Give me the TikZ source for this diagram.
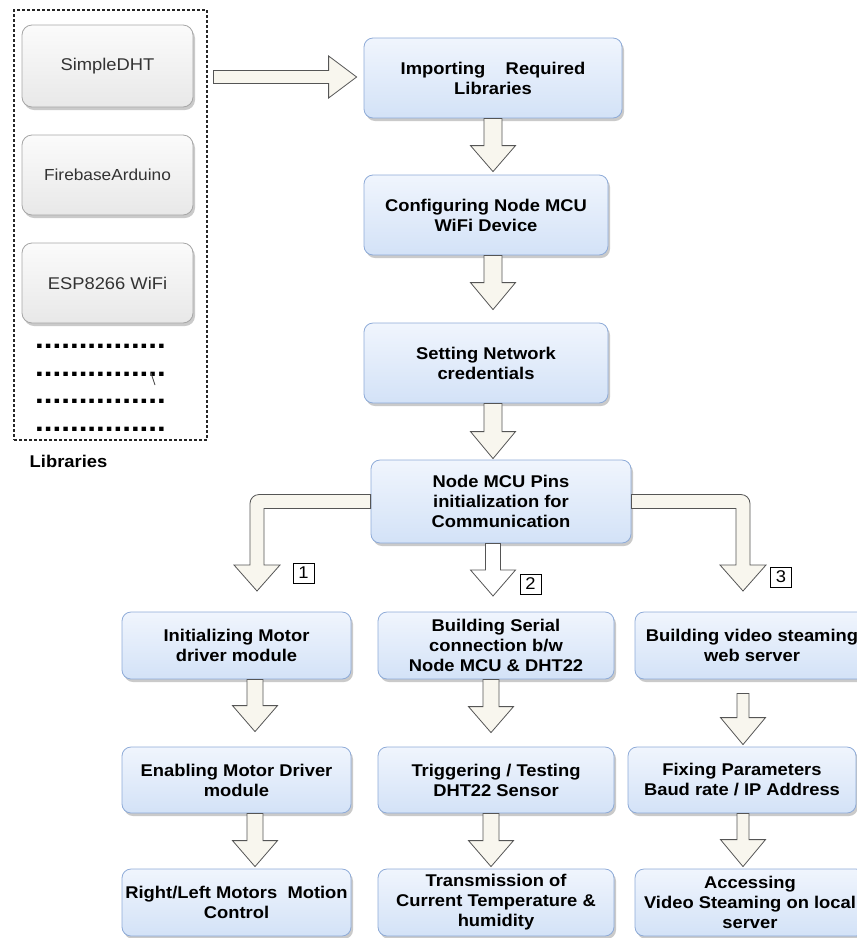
\documentclass[tikz,border=0pt]{standalone}
\usepackage{fontspec}
\setmainfont{Liberation Sans}[FakeStretch=1.08]
\usetikzlibrary{calc,shadows}
\definecolor{BoxTop}{HTML}{F0F5FD}
\definecolor{BoxBot}{HTML}{D3E2F7}
\definecolor{BoxLine}{HTML}{8EABD8}
\definecolor{LibTop}{HTML}{FBFBFB}
\definecolor{LibBot}{HTML}{E8E8E8}
\definecolor{LibLine}{HTML}{A6A6A6}
\definecolor{LibText}{HTML}{333333}
\definecolor{ArrowClr}{HTML}{F8F6EE}
\definecolor{ArrowLine}{HTML}{555555}
\newcommand{\shafthalf}{8pt}
\newcommand{\headlen}{26pt}

\begin{document}
\begin{tikzpicture}[x=1pt,y=-1pt,
  stepbox/.style={draw=BoxLine,line width=.8pt,rounded corners=9pt,top color=BoxTop,bottom color=BoxBot,
    align=center,inner sep=0pt,font=\fontsize{17}{20}\selectfont\bfseries,
    drop shadow={shadow xshift=2pt,shadow yshift=-3pt,fill=black!35,opacity=.6}},
  libbox/.style={draw=LibLine,line width=.8pt,rounded corners=10pt,top color=LibTop,bottom color=LibBot,
    text=LibText,inner sep=0pt,minimum width=171pt,font=\fontsize{17}{20}\selectfont,
    drop shadow={shadow xshift=2pt,shadow yshift=-3pt,fill=black!35,opacity=.6}},
  numbox/.style={draw,line width=.8pt,fill=white,inner sep=0pt,minimum width=21pt,minimum height=20pt,
    font=\fontsize{17}{17}\selectfont},
  dotrow/.style={inner sep=0pt,anchor=base,font=\fontsize{29}{29}\selectfont\bfseries},
  shaft/.code={\def\shafthalf{#1}},
  head/.code={\def\headlen{#1}},
  downarrow/.style={draw=ArrowLine,fill=ArrowClr,line width=.8pt,line join=miter,
    to path={let \p1=(\tikztostart), \p2=(\tikztotarget) in
      (\x1-\shafthalf,\y1) -- (\x1-\shafthalf,\y2+\headlen) -- (\x1-22.5pt,\y2+\headlen) -- (\x1,\y2)
      -- (\x1+22.5pt,\y2+\headlen) -- (\x1+\shafthalf,\y2+\headlen) -- (\x1+\shafthalf,\y1) -- cycle}},
  rightarrow/.style={draw=ArrowLine,fill=ArrowClr,line width=.8pt,
    to path={let \p1=(\tikztostart), \p2=(\tikztotarget) in
      (\x1,\y1+6.5pt) -- (\x2-28pt,\y1+6.5pt) -- (\x2-28pt,\y1+21pt) -- (\x2,\y1)
      -- (\x2-28pt,\y1-21pt) -- (\x2-28pt,\y1-6.5pt) -- (\x1,\y1-6.5pt) -- cycle}},
  bentarrow/.style={draw=ArrowLine,fill=ArrowClr,line width=.8pt}]

\useasboundingbox (0,0) rectangle (857,938);
\clip (0,0) rectangle (857,938);

\node[draw=black!85,dash pattern=on 3pt off 2pt,line width=1.1pt,minimum width=193pt,minimum height=430pt] (libs) at (110.5,225) {};
\node[libbox,minimum height=82pt] (simple) at (107.5,66) {SimpleDHT};
\node[libbox,minimum height=80pt,font=\fontsize{16}{20}\selectfont] (firebase) at (107.5,175) {FirebaseArduino};
\node[libbox,minimum height=80pt] (esp) at (107.5,283) {ESP8266 WiFi};
\foreach \y/\n in {348/1,376/2,403/3,431/4}
  \node[dotrow] (dots\n) at (100.5,\y) {...............};
\draw[line width=.9pt,black!70] (151,373) -- (155,385);
\node[font=\fontsize{17}{20}\selectfont\bfseries] (libtitle) at (68.5,461) {Libraries};

\node[stepbox,minimum width=258pt,minimum height=80pt] (imp) at (493,78) {Importing~~~ Required\\Libraries};
\node[stepbox,minimum width=244pt,minimum height=80pt] (cfg) at (486,215) {Configuring Node MCU\\WiFi Device};
\node[stepbox,minimum width=244pt,minimum height=80pt] (set) at (486,363) {Setting Network\\credentials};
\node[stepbox,minimum width=260pt,minimum height=83pt] (mcu) at (501,501.5) {Node MCU Pins\\initialization for\\Communication};

\node[stepbox,minimum width=229pt,minimum height=67pt] (c1a) at (236.5,645.5) {Initializing Motor\\driver module};
\node[stepbox,minimum width=229pt,minimum height=66pt] (c1b) at (236.5,780) {Enabling Motor Driver\\module};
\node[stepbox,minimum width=229pt,minimum height=67pt] (c1c) at (236.5,902.5) {Right/Left Motors~ Motion\\Control};
\node[stepbox,minimum width=236pt,minimum height=67pt] (c2a) at (496,645.5) {Building Serial\\connection b/w\\Node MCU \& DHT22};
\node[stepbox,minimum width=236pt,minimum height=66pt] (c2b) at (496,780) {Triggering / Testing\\DHT22 Sensor};
\node[stepbox,minimum width=236pt,minimum height=67pt] (c2c) at (496,902.5) {Transmission of\\Current Temperature \&\\humidity};
\node[stepbox,minimum width=234pt,minimum height=67pt] (c3a) at (752,645.5) {Building video steaming\\web server};
\node[stepbox,minimum width=228pt,minimum height=66pt] (c3b) at (742,780) {Fixing Parameters\\Baud rate / IP Address};
\node[stepbox,minimum width=230pt,minimum height=67pt] (c3c) at (750,902.5) {Accessing\\Video Steaming on local\\server};

\draw[rightarrow] ($(libs.east |- imp.west)+(6pt,1pt)$) to ([xshift=-7pt]imp.west);

\draw[downarrow,shaft=9pt,head=26pt] (imp.south) to ([yshift=3pt]cfg.north);
\draw[downarrow,shaft=9pt,head=27pt] ([xshift=7pt]cfg.south) to ([yshift=13pt]set.north);
\draw[downarrow,shaft=9pt,head=27pt] ([xshift=7pt]set.south) to ([xshift=-8pt,yshift=1pt]mcu.north);

\coordinate (t1) at (257,591);
\coordinate (t2) at (493,596);
\coordinate (t3) at (743,591);
\draw[bentarrow] let \p1=(mcu.west), \p2=(t1) in
  (\x1,\y1+7pt) -- (\x2+2pt,\y1+7pt) arc[start angle=90,end angle=180,radius=9pt]
  -- (\x2-7pt,\y2+26pt) -- (\x2-23pt,\y2+26pt) -- (\x2,\y2) -- (\x2+23pt,\y2+26pt)
  -- (\x2+7pt,\y2+26pt) -- (\x2+7pt,\y1-7pt) -- (\x1,\y1-7pt) -- cycle;
\draw[bentarrow] let \p1=(mcu.east), \p2=(t3) in
  (\x1,\y1+7pt) -- (\x2-2pt,\y1+7pt) arc[start angle=90,end angle=0,radius=9pt]
  -- (\x2+7pt,\y2+26pt) -- (\x2+23pt,\y2+26pt) -- (\x2,\y2) -- (\x2-23pt,\y2+26pt)
  -- (\x2-7pt,\y2+26pt) -- (\x2-7pt,\y1-7pt) -- (\x1,\y1-7pt) -- cycle;
\draw[downarrow,shaft=7.5pt,fill=white] ([xshift=-8pt]mcu.south) to (t2);

\node[numbox] (n1) at (303.5,573) {1};
\node[numbox] (n2) at (530.5,584) {2};
\node[numbox] (n3) at (781,577) {3};

\draw[downarrow] ([xshift=18.5pt]c1a.south) to ([yshift=15pt]c1b.north);
\draw[downarrow] ([xshift=18.5pt]c1b.south) to ([yshift=2pt]c1c.north);
\draw[downarrow] ([xshift=-5pt]c2a.south) to ([yshift=14pt]c2b.north);
\draw[downarrow] ([xshift=-5pt]c2b.south) to ([yshift=2pt]c2c.north);
\draw[downarrow,shaft=6pt,head=27pt] ([xshift=-9pt,yshift=-14pt]c3a.south) to ([yshift=2pt]c3b.north);
\draw[downarrow,shaft=6pt,head=27pt] ([xshift=1pt]c3b.south) to ([yshift=2pt]c3c.north);

\end{tikzpicture}
\end{document}
